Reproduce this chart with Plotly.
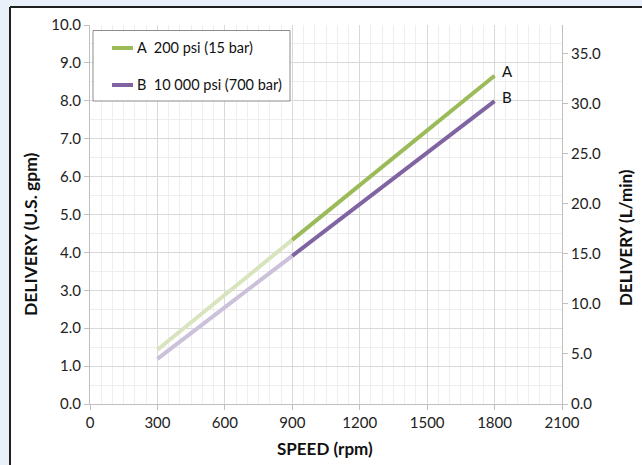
import plotly.graph_objects as go

# ---- data ----
speed_low = [300, 900]
speed_high = [900, 1800]
a_low = [1.43, 4.33]
a_high = [4.33, 8.66]
b_low = [1.19, 3.91]
b_high = [3.91, 7.99]
series_names = ["A&nbsp;&nbsp;200 psi (15 bar)", "B&nbsp;&nbsp;10 000 psi (700 bar)"]
end_labels = ["A", "B"]
x_ticks = [0, 300, 600, 900, 1200, 1500, 1800, 2100]
y_ticks = [0, 1, 2, 3, 4, 5, 6, 7, 8, 9, 10]
y2_ticks = [0, 5, 10, 15, 20, 25, 30, 35]
GPM_TO_LPM = 3.7854

A_DARK, A_LIGHT = "#9BBB59", "#D7E4BD"
B_DARK, B_LIGHT = "#8064A2", "#CCC1DA"
FONT = "Lato, 'Open Sans', sans-serif"
STRIP = "#E9F0F9"

W, H = 642, 465
ML, MR, MT, MB = 90, 80, 25, 61
PW, PH = W - ML - MR, H - MT - MB


def px(x):
    return (x - ML) / PW


def py(y):
    return (H - MB - y) / PH


fig = go.Figure()
for xs, ys, col in [(speed_low, a_low, A_LIGHT), (speed_low, b_low, B_LIGHT),
                    (speed_high, a_high, A_DARK), (speed_high, b_high, B_DARK)]:
    fig.add_trace(go.Scatter(x=xs, y=ys, mode="lines",
                             line=dict(color=col, width=4), showlegend=False,
                             hoverinfo="skip"))
# invisible trace to activate the secondary axis
fig.add_trace(go.Scatter(x=[0], y=[0], yaxis="y2", mode="markers",
                         marker=dict(opacity=0), showlegend=False, hoverinfo="skip"))

shapes = [
    # page frame strips
    dict(type="rect", xref="paper", yref="paper", x0=px(-5), x1=px(700),
         y0=py(6.5), y1=py(-5), fillcolor=STRIP, line=dict(width=0), layer="above"),
    dict(type="rect", xref="paper", yref="paper", x0=px(-5), x1=px(9.5),
         y0=py(520), y1=py(-5), fillcolor=STRIP, line=dict(width=0), layer="above"),
    dict(type="line", xref="paper", yref="paper", x0=px(10), x1=px(700),
         y0=py(7), y1=py(7), line=dict(color="#1f1f1f", width=2), layer="above"),
    dict(type="line", xref="paper", yref="paper", x0=px(10), x1=px(10),
         y0=py(7), y1=py(520), line=dict(color="#1f1f1f", width=2), layer="above"),
    # legend box
    dict(type="rect", xref="paper", yref="paper", x0=px(93), x1=px(290),
         y0=py(101), y1=py(30.5), fillcolor="white",
         line=dict(color="#8C8C8C", width=1), layer="above"),
    dict(type="line", xref="paper", yref="paper", x0=px(112), x1=px(133),
         y0=py(48), y1=py(48), line=dict(color=A_DARK, width=4), layer="above"),
    dict(type="line", xref="paper", yref="paper", x0=px(112), x1=px(133),
         y0=py(85), y1=py(85), line=dict(color=B_DARK, width=4), layer="above"),
]

annotations = [
    dict(xref="paper", yref="paper", x=px(135), y=py(47), text=series_names[0],
         showarrow=False, xanchor="left", yanchor="middle",
         font=dict(size=14.5, color="#111")),
    dict(xref="paper", yref="paper", x=px(135), y=py(84), text=series_names[1],
         showarrow=False, xanchor="left", yanchor="middle",
         font=dict(size=14.5, color="#111")),
    dict(x=speed_high[-1], y=a_high[-1], text=end_labels[0], showarrow=False,
         xanchor="left", yanchor="middle", xshift=5, yshift=5,
         font=dict(size=15, color="#111")),
    dict(x=speed_high[-1], y=b_high[-1], text=end_labels[1], showarrow=False,
         xanchor="left", yanchor="middle", xshift=5, yshift=4,
         font=dict(size=15, color="#111")),
    dict(xref="paper", yref="paper", x=px(325), y=py(448), text="<b>SPEED (rpm)</b>",
         showarrow=False, xanchor="center", yanchor="middle",
         font=dict(size=17, color="#111")),
    dict(xref="paper", yref="paper", x=px(30), y=py(234),
         text="<b>DELIVERY (U.S. gpm)</b>", textangle=-90,
         showarrow=False, xanchor="center", yanchor="middle",
         font=dict(size=17.5, color="#111")),
    dict(xref="paper", yref="paper", x=px(625), y=py(238),
         text="<b>DELIVERY (L/min)</b>", textangle=-90,
         showarrow=False, xanchor="center", yanchor="middle",
         font=dict(size=17, color="#111")),
]

axis_common = dict(showline=True, linecolor="#BFBFBF", linewidth=1,
                   ticks="outside", ticklen=5, tickcolor="#BFBFBF",
                   tickfont=dict(size=15, color="#222"), zeroline=False)

fig.update_layout(
    width=W, height=H,
    margin=dict(l=ML, r=MR, t=MT, b=MB),
    paper_bgcolor="white", plot_bgcolor="white",
    font=dict(family=FONT),
    showlegend=False,
    shapes=shapes, annotations=annotations,
    xaxis=dict(range=[0, 2100], tickvals=x_ticks, showgrid=True,
               gridcolor="#D9D9D9", gridwidth=1,
               minor=dict(dtick=50, showgrid=True, gridcolor="#EEEEEE"),
               **axis_common),
    yaxis=dict(range=[0, 10], tickvals=y_ticks, tickformat=".1f", showgrid=True,
               gridcolor="#D9D9D9", gridwidth=1,
               minor=dict(dtick=0.5, showgrid=True, gridcolor="#EEEEEE"),
               **axis_common),
    yaxis2=dict(range=[0, 10 * GPM_TO_LPM], tickvals=y2_ticks, tickformat=".1f",
                overlaying="y", side="right", showgrid=False, **axis_common),
)

fig.write_html("out.html", config={"displayModeBar": False},
               post_script="document.body.style.margin='0';document.body.style.overflow='hidden';")
